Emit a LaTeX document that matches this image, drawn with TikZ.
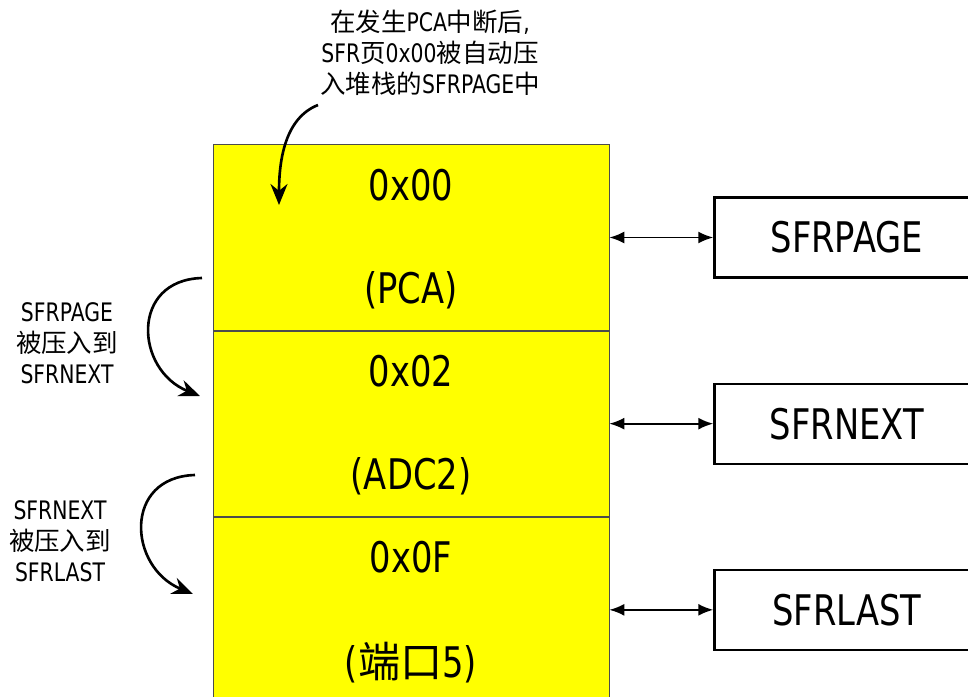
\documentclass[tikz,border=0pt]{standalone}
\usepackage{fontspec}
\setmainfont{DejaVu Sans}[FakeStretch=0.8]
\newfontfamily\cjk{Noto Sans CJK SC}
\newcommand{\zh}[1]{{\cjk #1}}
\usetikzlibrary{arrows.meta,positioning}
\definecolor{StackYellow}{HTML}{FFFF00}
\tikzset{
  stackcell/.style={draw=black!70, thin, fill=StackYellow, inner sep=0pt,
    minimum width=7.92cm, minimum height=3.71cm},
  cellvalue/.style={font=\fontsize{24}{28}\selectfont, inner sep=0pt},
  sfrreg/.style={draw, line width=1.3pt, minimum width=5.3cm, minimum height=1.6cm,
    font=\fontsize{24}{28}\selectfont},
  note/.style={align=center, font=\fontsize{14.5}{17.6}\selectfont},
  linkwire/.style={{Latex[length=3mm,width=2.4mm]}-{Latex[length=3mm,width=2.4mm]},
    line width=1.1pt},
  pushwire/.style={-{Stealth[length=4.2mm,width=3.4mm]}, line width=1.5pt}
}

\begin{document}
\begin{tikzpicture}[x=0.02cm, y=-0.02cm]
  \useasboundingbox (0,0) rectangle (968,697);
  \clip (0,0) rectangle (968,697);
  % stack of SFR pages
  \node[stackcell] (cellA) at (411,237.5) {};
  \node[stackcell, below=0pt of cellA] (cellB) {};
  \node[stackcell, below=0pt of cellB] (cellC) {};
  \node[cellvalue] (valA) at ([yshift=1.05cm]cellA.center) {0x00};
  \node[cellvalue] (srcA) at ([yshift=-1.05cm]cellA.center) {(PCA)};
  \node[cellvalue] (valB) at ([yshift=1.05cm]cellB.center) {0x02};
  \node[cellvalue] (srcB) at ([yshift=-1.05cm]cellB.center) {(ADC2)};
  \node[cellvalue] (valC) at ([yshift=1.05cm]cellC.center) {0x0F};
  \node[cellvalue] (srcC) at ([yshift=-1.05cm]cellC.center) {(\zh{端口}5)};
  % registers
  \node[sfrreg, right=2.08cm of cellA] (regA) {SFRPAGE};
  \node[sfrreg, right=2.08cm of cellB] (regB) {SFRNEXT};
  \node[sfrreg, right=2.08cm of cellC] (regC) {SFRLAST};
  \draw[linkwire] (cellA.east) -- (regA.west);
  \draw[linkwire] (cellB.east) -- (regB.west);
  \draw[linkwire] (cellC.east) -- (regC.west);
  % notes
  \node[note] (topnote) at (430,53)
    {\zh{在发生}PCA\zh{中断后},\\SFR\zh{页}0x00\zh{被自动压}\\\zh{入堆栈的}SFRPAGE\zh{中}};
  \node[note] (noteA) at (67,343) {SFRPAGE\\\zh{被压入到}\\SFRNEXT};
  \node[note] (noteB) at (60,541) {SFRNEXT\\\zh{被压入到}\\SFRLAST};
  \coordinate (pushA) at (318,105);
  \coordinate (dropA) at (279,205);
  \coordinate (pushB) at (202,278);
  \coordinate (dropB) at (200,396);
  \coordinate (pushC) at (195,475);
  \coordinate (dropC) at (193,594);
  \draw[pushwire] (pushA) .. controls (285,118) and (279,160) .. (dropA);
  \draw[pushwire] (pushB) .. controls (130,280) and (135,370) .. (dropB);
  \draw[pushwire] (pushC) .. controls (123,477) and (128,567) .. (dropC);
\end{tikzpicture}
\end{document}
